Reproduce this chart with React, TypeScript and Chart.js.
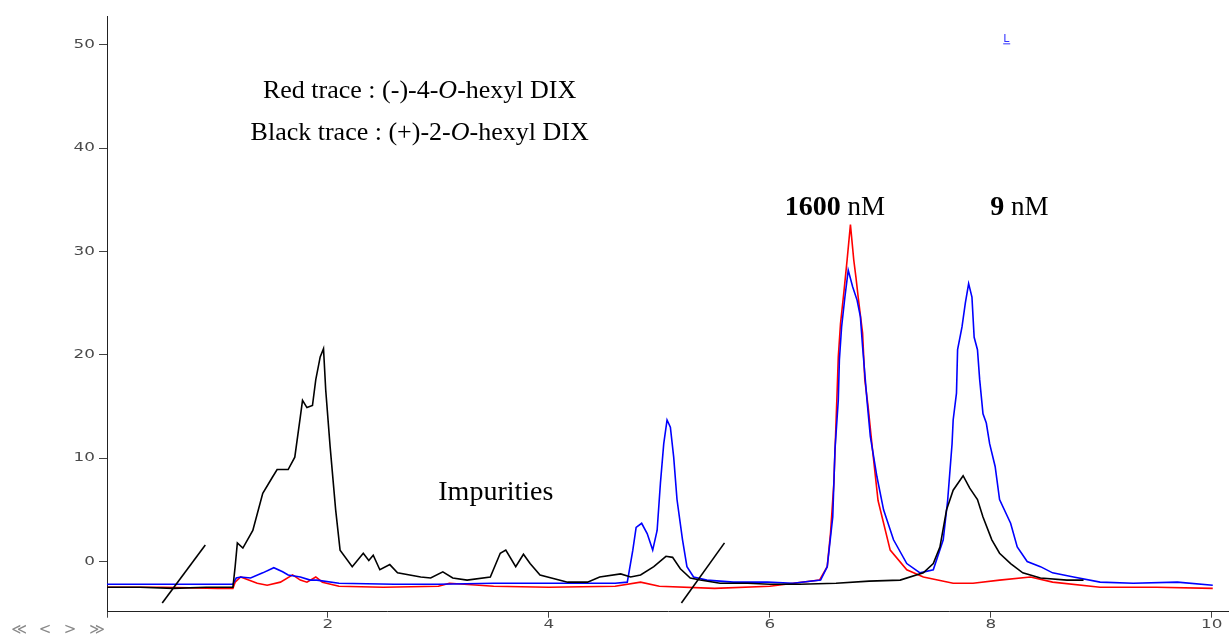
import { useEffect, useRef } from 'react';
import { Chart, registerables } from 'chart.js';

Chart.register(...registerables);

// Retention time (min) and signal values
const blackX = [0, 0.3, 0.6, 0.9, 1.14, 1.16, 1.18, 1.23, 1.32, 1.41, 1.50, 1.54, 1.64, 1.70, 1.75, 1.77, 1.81, 1.86, 1.89, 1.93, 1.96, 1.98, 2.02, 2.07, 2.11, 2.22, 2.32, 2.37, 2.41, 2.47, 2.56, 2.63, 2.84, 2.93, 3.04, 3.13, 3.26, 3.47, 3.56, 3.61, 3.70, 3.77, 3.83, 3.92, 4.17, 4.35, 4.46, 4.65, 4.74, 4.83, 4.95, 5.06, 5.12, 5.19, 5.28, 5.37, 5.55, 5.8, 6.0, 6.27, 6.6, 6.9, 7.18, 7.39, 7.48, 7.54, 7.60, 7.66, 7.75, 7.81, 7.88, 7.93, 8.01, 8.08, 8.18, 8.29, 8.45, 8.69, 8.84];
const blackY = [-2.5, -2.5, -2.6, -2.5, -2.5, -0.5, 1.8, 1.3, 3.0, 6.6, 8.2, 8.9, 8.9, 10.1, 14.0, 15.6, 14.9, 15.1, 17.6, 19.8, 20.6, 16.6, 11.1, 5.0, 1.1, -0.5, 0.8, 0.1, 0.6, -0.8, -0.3, -1.1, -1.5, -1.6, -1.0, -1.6, -1.8, -1.5, 0.8, 1.1, -0.5, 0.7, -0.2, -1.3, -2.0, -2.0, -1.5, -1.2, -1.5, -1.3, -0.5, 0.5, 0.4, -0.7, -1.6, -1.8, -2.1, -2.1, -2.2, -2.2, -2.1, -1.9, -1.8, -1.1, -0.2, 1.4, 5.0, 6.9, 8.3, 7.1, 6.0, 4.3, 2.1, 0.8, -0.2, -1.1, -1.6, -1.8, -1.8];

const redX = [0, 0.5, 1.0, 1.14, 1.16, 1.21, 1.36, 1.45, 1.57, 1.68, 1.75, 1.81, 1.89, 1.95, 2.1, 2.5, 3.0, 3.1, 3.5, 4.0, 4.6, 4.83, 5.0, 5.5, 6.0, 6.45, 6.52, 6.55, 6.58, 6.61, 6.62, 6.64, 6.67, 6.70, 6.73, 6.76, 6.78, 6.80, 6.84, 6.86, 6.89, 6.93, 6.98, 7.09, 7.24, 7.39, 7.66, 7.84, 8.08, 8.36, 8.56, 8.99, 9.5, 10.01];
const redY = [-2.5, -2.5, -2.6, -2.6, -2.0, -1.5, -2.1, -2.3, -2.0, -1.3, -1.8, -2.0, -1.5, -2.0, -2.4, -2.5, -2.4, -2.1, -2.4, -2.5, -2.4, -2.0, -2.4, -2.6, -2.4, -1.8, -0.5, 2.8, 7.6, 16.6, 19.8, 23.0, 26.0, 29.2, 32.6, 29.2, 27.5, 25.6, 22.1, 17.6, 15.0, 10.8, 5.9, 1.1, -0.8, -1.5, -2.1, -2.1, -1.8, -1.5, -2.0, -2.5, -2.5, -2.6];

const blueX = [0, 0.5, 1.0, 1.14, 1.17, 1.21, 1.30, 1.41, 1.51, 1.59, 1.64, 1.75, 1.84, 1.90, 2.1, 2.6, 3.0, 3.5, 4.0, 4.6, 4.71, 4.76, 4.79, 4.84, 4.89, 4.94, 4.98, 5.01, 5.04, 5.07, 5.10, 5.13, 5.16, 5.21, 5.25, 5.31, 5.43, 5.67, 5.98, 6.21, 6.46, 6.52, 6.57, 6.59, 6.62, 6.63, 6.65, 6.68, 6.71, 6.75, 6.79, 6.82, 6.84, 6.86, 6.88, 6.91, 6.97, 7.03, 7.12, 7.24, 7.36, 7.48, 7.57, 7.61, 7.65, 7.66, 7.69, 7.70, 7.74, 7.77, 7.80, 7.83, 7.85, 7.88, 7.90, 7.93, 7.96, 7.99, 8.04, 8.08, 8.18, 8.24, 8.33, 8.45, 8.56, 8.75, 8.99, 9.29, 9.69, 10.01];
const blueY = [-2.2, -2.2, -2.2, -2.2, -1.6, -1.5, -1.6, -1.1, -0.6, -1.0, -1.3, -1.5, -1.8, -1.8, -2.1, -2.2, -2.2, -2.1, -2.1, -2.1, -2.0, 1.1, 3.3, 3.7, 2.7, 1.1, 3.0, 7.6, 11.4, 13.7, 13.0, 10.1, 6.0, 2.1, -0.5, -1.5, -1.8, -2.0, -2.0, -2.1, -1.8, -0.5, 4.3, 10.8, 15.6, 19.5, 22.7, 25.6, 28.2, 26.6, 25.3, 23.7, 20.8, 18.2, 15.6, 12.1, 8.2, 5.0, 2.1, -0.2, -1.1, -0.8, 2.1, 5.9, 11.4, 13.7, 16.3, 20.5, 22.7, 25.0, 26.9, 25.6, 21.7, 20.5, 17.6, 14.3, 13.4, 11.4, 9.2, 6.0, 3.7, 1.4, 0.0, -0.5, -1.1, -1.5, -2.0, -2.1, -2.0, -2.3];

// Axis-break slash markers
const break1X = [0.50, 0.89];
const break1Y = [-4.02, 1.6];
const break2X = [5.20, 5.59];
const break2Y = [-4.02, 1.8];

// Axis ranges and ticks
const xMin = 0;
const xMax = 10.157;
const yMin = -4.86;
const yMax = 52.8;
const xStep = 2;
const yStep = 10;

// Text labels (anchor in data coordinates)
const labelRed = ['Red trace : (-)-4-', 'O', '-hexyl DIX'];
const labelBlack = ['Black trace : (+)-2-', 'O', '-hexyl DIX'];
const labelTraceX = 2.83;
const labelRedY = 44.9;
const labelBlackY = 40.8;
const labelImp = 'Impurities';
const labelImpX = 3.52;
const labelImpY = 5.95;
const conc1 = ['1600', ' nM'];
const conc1X = 6.59;
const conc2 = ['9', ' nM'];
const conc2X = 8.26;
const concY = 33.5;
const markL = 'L';
const markLX = 8.14;
const markLY = 50.3;
const navText = ['\u226A', '<', '>', '\u226B'];

const toPts = (xs: number[], ys: number[]) => xs.map((x, i) => ({ x, y: ys[i] }));

const SERIF = '"Liberation Serif", "Times New Roman", serif';
const TICK_FONT = '12px "DejaVu Sans", sans-serif';
const TICK_STRETCH = 1.4;

function drawSegs(ctx: CanvasRenderingContext2D, segs: { t: string; f: string }[], cx: number, by: number, color: string) {
  let total = 0;
  const widths = segs.map((s) => {
    ctx.font = s.f;
    const w = ctx.measureText(s.t).width;
    total += w;
    return w;
  });
  let x = cx - total / 2;
  ctx.fillStyle = color;
  ctx.textAlign = 'left';
  ctx.textBaseline = 'alphabetic';
  segs.forEach((s, i) => {
    ctx.font = s.f;
    ctx.fillText(s.t, x, by);
    x += widths[i];
  });
}

function stretchedText(ctx: CanvasRenderingContext2D, t: string, x: number, y: number, align: CanvasTextAlign) {
  ctx.save();
  ctx.translate(x, y);
  ctx.scale(TICK_STRETCH, 1);
  ctx.textAlign = align;
  ctx.textBaseline = 'middle';
  ctx.fillText(t, 0, 0);
  ctx.restore();
}

const textPlugin = {
  id: 'textPlugin',
  afterDraw(chart: any) {
    const ctx: CanvasRenderingContext2D = chart.ctx;
    const xs = chart.scales.x;
    const ys = chart.scales.y;
    ctx.save();

    // stretched tick labels, taken from the library's scale ticks
    ctx.font = TICK_FONT;
    ctx.fillStyle = '#4a4a4a';
    ys.ticks.forEach((t: any) => {
      stretchedText(ctx, String(t.value), ys.right - 12, ys.getPixelForValue(t.value), 'right');
    });
    xs.ticks.forEach((t: any) => {
      if (t.value === 0) return;
      stretchedText(ctx, String(t.value), xs.getPixelForValue(t.value), xs.top + 13, 'center');
    });

    const n26 = `26px ${SERIF}`;
    const i26 = `italic 26px ${SERIF}`;
    drawSegs(ctx, [{ t: labelRed[0], f: n26 }, { t: labelRed[1], f: i26 }, { t: labelRed[2], f: n26 }], xs.getPixelForValue(labelTraceX), ys.getPixelForValue(labelRedY), '#000');
    drawSegs(ctx, [{ t: labelBlack[0], f: n26 }, { t: labelBlack[1], f: i26 }, { t: labelBlack[2], f: n26 }], xs.getPixelForValue(labelTraceX), ys.getPixelForValue(labelBlackY), '#000');
    drawSegs(ctx, [{ t: labelImp, f: `28px ${SERIF}` }], xs.getPixelForValue(labelImpX), ys.getPixelForValue(labelImpY), '#000');
    drawSegs(ctx, [{ t: conc1[0], f: `bold 28px ${SERIF}` }, { t: conc1[1], f: `27px ${SERIF}` }], xs.getPixelForValue(conc1X), ys.getPixelForValue(concY), '#000');
    drawSegs(ctx, [{ t: conc2[0], f: `bold 28px ${SERIF}` }, { t: conc2[1], f: `27px ${SERIF}` }], xs.getPixelForValue(conc2X), ys.getPixelForValue(concY), '#000');

    // small blue marker
    const lx = xs.getPixelForValue(markLX);
    const ly = ys.getPixelForValue(markLY);
    ctx.font = '11px "DejaVu Sans", sans-serif';
    ctx.fillStyle = '#3333ff';
    ctx.textAlign = 'center';
    ctx.textBaseline = 'alphabetic';
    ctx.fillText(markL, lx, ly);
    ctx.fillRect(lx - 3, ly + 1.5, 7, 1);

    // navigation arrows under the axis
    ctx.font = '15px "DejaVu Sans", sans-serif';
    ctx.fillStyle = '#888';
    ctx.textAlign = 'center';
    ctx.textBaseline = 'middle';
    const navPos = [19, 45, 70, 97];
    navText.forEach((t, i) => ctx.fillText(t, navPos[i], 630));
    ctx.restore();
  },
};

export default function App() {
  const ref = useRef<HTMLCanvasElement>(null);
  useEffect(() => {
    document.body.style.margin = '0';
    const canvas = ref.current!;
    const tickFont = { family: '"DejaVu Sans", sans-serif', size: 12 };
    const line = (pts: any[], color: string, w = 1.6) => ({
      data: pts,
      borderColor: color,
      backgroundColor: color,
      borderWidth: w,
      pointRadius: 0,
      tension: 0,
      fill: false,
    });
    const chart = new Chart(canvas, {
      type: 'line',
      data: {
        datasets: [
          line(toPts(break1X, break1Y), '#000', 1.6),
          line(toPts(break2X, break2Y), '#000', 1.6),
          line(toPts(blackX, blackY), '#000000'),
          line(toPts(blueX, blueY), '#0000ff'),
          line(toPts(redX, redY), '#ff0000'),
        ] as any,
      },
      options: {
        animation: false,
        responsive: false,
        maintainAspectRatio: false,
        parsing: false as any,
        layout: { padding: { top: 16, right: 0, left: 0, bottom: 0 } },
        plugins: { legend: { display: false }, tooltip: { enabled: false } },
        scales: {
          x: {
            type: 'linear',
            min: xMin,
            max: xMax,
            afterFit: (s: any) => { s.height = 23.3; },
            border: { display: true, color: '#222', width: 1 },
            grid: { display: true, drawOnChartArea: false, drawTicks: true, tickLength: 6, color: '#444' },
            ticks: {
              stepSize: xStep,
              includeBounds: false,
              padding: 1,
              color: 'rgba(0,0,0,0)',
              font: tickFont,
              maxRotation: 0,
            },
          },
          y: {
            type: 'linear',
            min: yMin,
            max: yMax,
            afterFit: (s: any) => { s.width = 107; },
            border: { display: true, color: '#222', width: 1 },
            grid: { display: true, drawOnChartArea: false, drawTicks: true, tickLength: 8, color: '#444' },
            ticks: {
              stepSize: yStep,
              includeBounds: false,
              padding: 3,
              color: 'rgba(0,0,0,0)',
              font: tickFont,
            },
          },
        },
      },
      plugins: [textPlugin],
    });
    return () => chart.destroy();
  }, []);
  return <canvas ref={ref} width={1229} height={635} style={{ display: 'block' }} />;
}
